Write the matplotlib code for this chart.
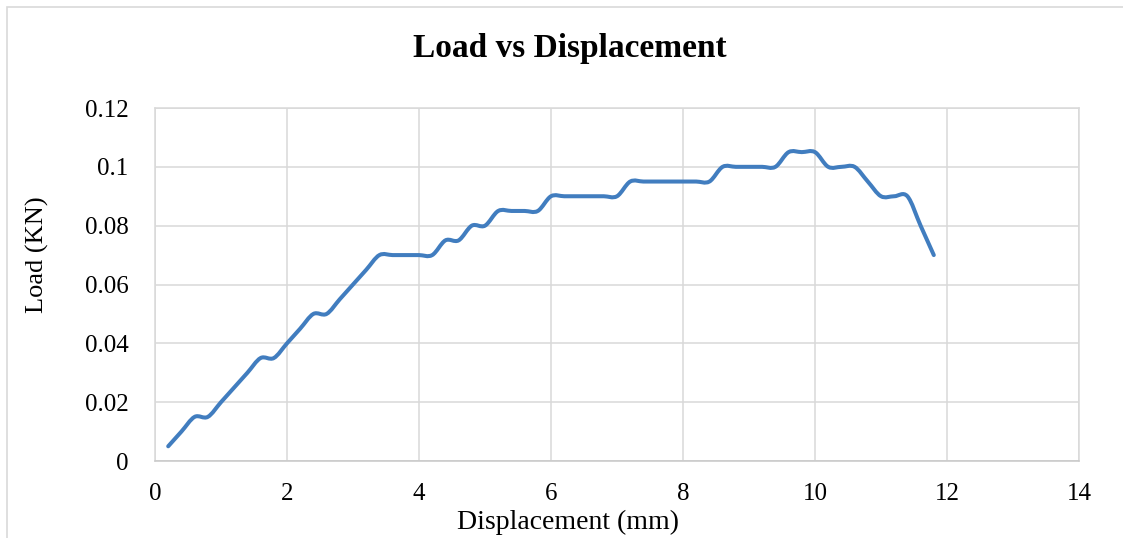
import numpy as np
import matplotlib.pyplot as plt
from matplotlib.path import Path
from matplotlib.patches import PathPatch, Rectangle

# values (Excel smoothed line)
disp = [0.2, 0.4, 0.6, 0.8, 1.0, 1.2, 1.4, 1.6, 1.8, 2.0,
        2.2, 2.4, 2.6, 2.8, 3.0, 3.2, 3.4, 3.6, 3.8, 4.0,
        4.2, 4.4, 4.6, 4.8, 5.0, 5.2, 5.4, 5.6, 5.8, 6.0,
        6.2, 6.4, 6.6, 6.8, 7.0, 7.2, 7.4, 7.6, 7.8, 8.0,
        8.2, 8.4, 8.6, 8.8, 9.0, 9.2, 9.4, 9.6, 9.8, 10.0,
        10.2, 10.4, 10.6, 10.8, 11.0, 11.2, 11.4, 11.6, 11.8]
load = [0.005, 0.010, 0.015, 0.015, 0.020, 0.025, 0.030, 0.035, 0.035, 0.040,
        0.045, 0.050, 0.050, 0.055, 0.060, 0.065, 0.070, 0.070, 0.070, 0.070,
        0.070, 0.075, 0.075, 0.080, 0.080, 0.085, 0.085, 0.085, 0.085, 0.090,
        0.090, 0.090, 0.090, 0.090, 0.090, 0.095, 0.095, 0.095, 0.095, 0.095,
        0.095, 0.095, 0.100, 0.100, 0.100, 0.100, 0.100, 0.105, 0.105, 0.105,
        0.100, 0.100, 0.100, 0.095, 0.090, 0.090, 0.090, 0.080, 0.070]

x_ticks = [0, 2, 4, 6, 8, 10, 12, 14]
y_ticks = [0, 0.02, 0.04, 0.06, 0.08, 0.1, 0.12]
y_labels = ['0', '0.02', '0.04', '0.06', '0.08', '0.1', '0.12']

W, H = 1123, 538
FONT = 'Liberation Serif'
GRID = '#d9d9d9'


def smooth_path(x, y):
    # cubic bezier through the points, like Excel's "smoothed line"
    p = np.column_stack([x, y])
    n = len(p)
    verts = [p[0]]
    codes = [Path.MOVETO]
    for i in range(n - 1):
        p0 = p[max(i - 1, 0)]
        p1 = p[i]
        p2 = p[i + 1]
        p3 = p[min(i + 2, n - 1)]
        verts += [p1 + (p2 - p0) / 6, p2 - (p3 - p1) / 6, p2]
        codes += [Path.CURVE4] * 3
    return Path(verts, codes)


fig = plt.figure(figsize=(W / 100, H / 100), dpi=100)
ax = fig.add_axes([155 / W, (H - 461) / H, 924 / W, 353 / H])

ax.add_patch(PathPatch(smooth_path(disp, load), facecolor='none',
                       edgecolor='#417dbf', lw=2.9, capstyle='round',
                       joinstyle='round'))

ax.set_xlim(0, 14)
ax.set_ylim(0, 0.12)
ax.set_xticks(x_ticks)
ax.set_xticklabels([str(t) for t in x_ticks], fontsize=18, family=FONT)
ax.set_yticks(y_ticks)
ax.set_yticklabels(y_labels, fontsize=18, family=FONT)
ax.tick_params(length=0)
ax.tick_params(axis='y', pad=19)
ax.tick_params(axis='x', pad=16)
ax.grid(True, color=GRID, lw=1.1)
ax.set_axisbelow(True)
for s in ax.spines.values():
    s.set_color(GRID)
    s.set_linewidth(1.1)
ax.spines['bottom'].set_color('#c8c8c8')

fig.text(570 / W, 1 - 48 / H, 'Load vs Displacement', ha='center', va='center',
         fontsize=24, fontweight='bold', family=FONT)
fig.text(568 / W, 1 - 522 / H, 'Displacement (mm)', ha='center', va='center',
         fontsize=20, family=FONT)
fig.text(37 / W, 1 - 255 / H, 'Load (KN)', ha='center', va='center',
         rotation=90, fontsize=19, family=FONT)

# chart area border (cut off at right and bottom in the original)
fig.patches.append(Rectangle((7 / W, -0.1), 1.2, 1 - 7 / H + 0.1,
                             transform=fig.transFigure, facecolor='none',
                             edgecolor=GRID, lw=1.2))

fig.savefig('out.png', dpi=100)
